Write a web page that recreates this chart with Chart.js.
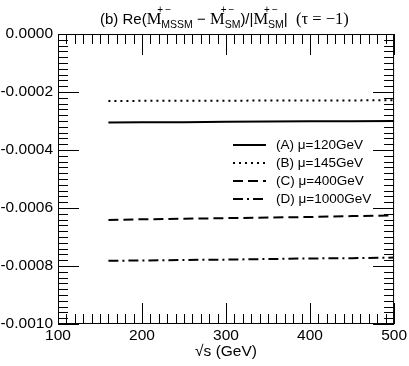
<!DOCTYPE html>
<html>
<head>
<meta charset="utf-8">
<script src="https://cdn.jsdelivr.net/npm/chart.js@4.4.0/dist/chart.umd.min.js"></script>
<style>
  html, body { margin: 0; padding: 0; background: #fff; }
  #wrap { position: relative; width: 409px; height: 366px; }
  #title { position: absolute; top: 0px; left: 100px; white-space: nowrap;
           font: 15px 'Liberation Sans', Arial, sans-serif; color: #000; line-height: 20px; }
  .sf { font-family: 'Liberation Serif', 'Times New Roman', serif; font-size: 16.5px; }
  .ss { display: inline-block; vertical-align: -4px; font-size: 10.5px; }
  .ss .sup { display: block; line-height: 20px; position: relative; left: -4px; letter-spacing: 2px; font-size: 10px; }
  .ss .sub { display: block; line-height: 9px; }
</style>
</head>
<body>
<div id="wrap">
  <canvas id="c" width="409" height="366"></canvas>
  <div id="title">(b) Re(<span class="sf">M</span><span class="ss"><span class="sup">+−</span><span class="sub">MSSM</span></span> − <span class="sf">M</span><span class="ss"><span class="sup">+−</span><span class="sub">SM</span></span>)/|<span class="sf">M</span><span class="ss"><span class="sup">+−</span><span class="sub">SM</span></span>|&nbsp;&nbsp;<span class="sf">(τ = −1)</span></div>
</div>
<script>
// ---- data ----
const sqrtS = [160, 200, 250, 300, 350, 400, 450, 500];
const seriesA = [-0.000305, -0.0003045, -0.000304, -0.000303, -0.000302, -0.000301, -0.0003005, -0.000300];
const seriesB = [-0.000231, -0.0002305, -0.000230, -0.000230, -0.0002295, -0.000229, -0.000229, -0.0002285];
const seriesC = [-0.000641, -0.000639, -0.000637, -0.000635, -0.000633, -0.000631, -0.000628, -0.000626];
const seriesD = [-0.000782, -0.000781, -0.000779, -0.000778, -0.000776, -0.000774, -0.000773, -0.000771];
const labels = ['(A) μ=120GeV', '(B) μ=145GeV', '(C) μ=400GeV', '(D) μ=1000GeV'];
const xTicks = [100, 200, 300, 400, 500];
const yTicks = [0, -0.0002, -0.0004, -0.0006, -0.0008, -0.0010];
const xMinorStep = 10;
const yMinorStep = 0.00002;

const styles = [
  { dash: [] },
  { dash: [2, 4] },
  { dash: [10, 5] },
  { dash: [10, 4, 2, 4] }
];
const allSeries = [seriesA, seriesB, seriesC, seriesD];

const datasets = allSeries.map((s, i) => ({
  label: labels[i],
  data: sqrtS.map((x, j) => ({ x: x, y: s[j] })),
  borderColor: '#000',
  borderWidth: 2,
  borderDash: styles[i].dash,
  pointRadius: 0,
  fill: false,
  tension: 0
}));

const FONT = "'Liberation Sans', Arial, sans-serif";

const framePlugin = {
  id: 'frameTicks',
  afterDatasetsDraw(chart) {
    const { ctx, chartArea: a, scales: { x, y } } = chart;
    ctx.save();
    ctx.strokeStyle = '#000';
    ctx.lineWidth = 1;
    ctx.setLineDash([]);
    ctx.strokeRect(a.left + 0.5, a.top + 0.5, a.right - a.left - 1, a.bottom - a.top - 1);
    const nX = Math.round((x.max - x.min) / xMinorStep);
    for (let i = 0; i <= nX; i++) {
      const v = x.min + i * xMinorStep;
      const px = Math.round(x.getPixelForValue(v)) + 0.5;
      const len = (i % 10 === 0) ? 21 : 10;
      ctx.beginPath();
      ctx.moveTo(px, a.bottom); ctx.lineTo(px, a.bottom - len);
      ctx.moveTo(px, a.top); ctx.lineTo(px, a.top + len);
      ctx.stroke();
    }
    const nY = Math.round((y.max - y.min) / yMinorStep);
    for (let i = 0; i <= nY; i++) {
      const v = y.min + i * yMinorStep;
      const py = Math.round(y.getPixelForValue(v)) + 0.5;
      const len = (i % 10 === 0) ? 21 : 10;
      ctx.beginPath();
      ctx.moveTo(a.left, py); ctx.lineTo(a.left + len, py);
      ctx.moveTo(a.right, py); ctx.lineTo(a.right - len, py);
      ctx.stroke();
    }
    // legend
    ctx.font = '13.5px ' + FONT;
    ctx.fillStyle = '#000';
    ctx.textBaseline = 'middle';
    chart.data.datasets.forEach((ds, i) => {
      const ly = a.top + 111 + i * 18;
      ctx.beginPath();
      ctx.lineWidth = 2;
      ctx.setLineDash(ds.borderDash || []);
      ctx.moveTo(a.left + 175, ly);
      ctx.lineTo(a.left + 208, ly);
      ctx.stroke();
      ctx.setLineDash([]);
      ctx.fillText(ds.label, a.left + 218, ly);
    });
    ctx.restore();
  }
};

new Chart(document.getElementById('c'), {
  type: 'line',
  data: { datasets: datasets },
  options: {
    responsive: false,
    animation: false,
    layout: { padding: { top: 34, right: 13, left: 0, bottom: 0 } },
    plugins: { legend: { display: false }, title: { display: false }, tooltip: { enabled: false } },
    scales: {
      x: {
        type: 'linear', min: 100, max: 500,
        afterBuildTicks: s => { s.ticks = xTicks.map(v => ({ value: v })); },
        afterFit: s => { s.height = 42; },
        grid: { display: false, drawTicks: false },
        border: { display: false },
        ticks: { color: '#000', font: { family: FONT, size: 15.5 }, padding: 2, maxRotation: 0, autoSkip: false },
        title: { display: true, text: '√s (GeV)', color: '#000', font: { family: FONT, size: 15.5 }, padding: { top: 0, bottom: 5 } }
      },
      y: {
        type: 'linear', min: -0.001, max: 0,
        afterBuildTicks: s => { s.ticks = yTicks.map(v => ({ value: v })); },
        afterFit: s => { s.width = 58; },
        grid: { display: false, drawTicks: false },
        border: { display: false },
        ticks: { color: '#000', font: { family: FONT, size: 15.5 }, padding: 5, autoSkip: false,
                 callback: v => (Math.abs(v) < 1e-12 ? 0 : v).toFixed(4) }
      }
    }
  },
  plugins: [framePlugin]
});
</script>
</body>
</html>
